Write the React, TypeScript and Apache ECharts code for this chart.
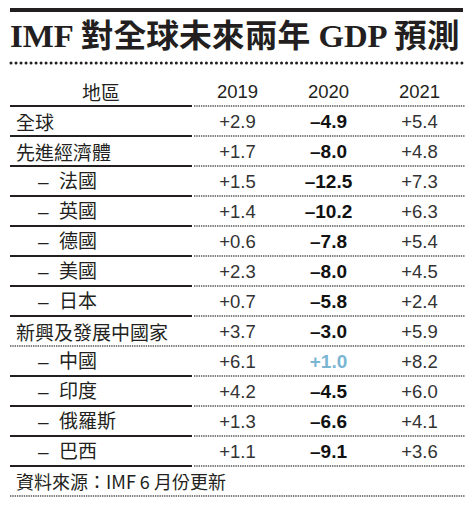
import React, { useEffect, useRef } from "react";
import * as echarts from "echarts";

const TITLE = "IMF 對全球未來兩年 GDP 預測";
const HEADER_REGION = "地區";
const YEARS = ["2019", "2020", "2021"];
const REGIONS = ["全球", "先進經濟體", "法國", "英國", "德國", "美國", "日本", "新興及發展中國家", "中國", "印度", "俄羅斯", "巴西"];
const LEVELS = [0, 0, 1, 1, 1, 1, 1, 0, 1, 1, 1, 1];
const G2019 = [2.9, 1.7, 1.5, 1.4, 0.6, 2.3, 0.7, 3.7, 6.1, 4.2, 1.3, 1.1];
const G2020 = [-4.9, -8.0, -12.5, -10.2, -7.8, -8.0, -5.8, -3.0, 1.0, -4.5, -6.6, -9.1];
const G2021 = [5.4, 4.8, 7.3, 6.3, 5.4, 4.5, 2.4, 5.9, 8.2, 6.0, 4.1, 3.6];
const SOURCE = "資料來源：IMF 6 月份更新";

// style constants
const INK = "#231f20";
const TEXT = "#333333";
const BLUE = "#7ab6d4";
const CJK = "'Noto Sans CJK TC', 'Noto Sans CJK SC', sans-serif";
const SANS = "'Liberation Sans', 'Noto Sans CJK TC', Arial, sans-serif";
const SERIF = "'Liberation Serif', 'Noto Sans CJK TC', serif";
const FULL_DOTTED_AFTER = [7]; // row index whose bottom rule is dotted across

const fmt = (v: number) => (v >= 0 ? "+" : "\u2013") + Math.abs(v).toFixed(1);

export default function App() {
  const ref = useRef<HTMLDivElement>(null);
  useEffect(() => {
    if (!ref.current) return;
    const chart = echarts.init(ref.current, null, { renderer: "svg" });

    const titleSize = 32;
    let scaleX = 1.04;
    try {
      const ctx = document.createElement("canvas").getContext("2d");
      if (ctx) {
        ctx.font = `bold ${titleSize}px ${SERIF}`;
        const w = ctx.measureText(TITLE).width;
        if (w > 0) scaleX = 453 / w;
      }
    } catch (e) {}

    const rowCount = REGIONS.length + 2; // header + rows + footer
    const data = Array.from({ length: rowCount }, (_, i) => [0, i]);

    const renderItem = (params: any, api: any) => {
      const r = api.value(1) as number;
      const X = (u: number) => api.coord([u, 0])[0];
      const cy = api.coord([0, r + 0.5])[1];
      const yb = Math.round(api.coord([0, r + 1])[1]);
      const children: any[] = [];
      const txt = (text: string, x: number, opts: any) =>
        children.push({
          type: "text",
          x,
          y: cy,
          style: {
            text,
            fill: opts.fill || TEXT,
            fontSize: opts.size || 18,
            fontFamily: opts.family || SANS,
            fontWeight: opts.weight || "normal",
            align: opts.align || "center",
            verticalAlign: "middle",
          },
        });
      const solid = (x1: number, x2: number) =>
        children.push({
          type: "line",
          shape: { x1, y1: yb, x2, y2: yb },
          style: { stroke: INK, lineWidth: 2.2 },
        });
      const dotted = (x1: number, x2: number) =>
        children.push({
          type: "line",
          shape: { x1, y1: yb, x2, y2: yb },
          style: { stroke: "#555", lineWidth: 1.5, lineDash: [1.4, 0.9] },
        });

      if (r === 0) {
        txt(HEADER_REGION, X(1), { family: CJK, size: 19, fill: INK });
        YEARS.forEach((y, j) => txt(y, X(2.5 + j), { size: 18.5, fill: INK }));
        solid(X(0), X(2));
        dotted(X(2) + 2, X(5));
      } else if (r === rowCount - 1) {
        txt(SOURCE, X(0) + 6, { family: CJK, size: 18, align: "left", fill: INK });
        dotted(X(0), X(5));
      } else {
        const i = r - 1;
        const label = LEVELS[i] ? "\u2013  " + REGIONS[i] : REGIONS[i];
        txt(label, X(0) + (LEVELS[i] ? 28 : 6), { family: LEVELS[i] ? SANS : CJK, size: 19, align: "left", fill: INK });
        txt(fmt(G2019[i]), X(2.5), { size: 18.5 });
        txt(fmt(G2020[i]), X(3.5), { size: 19, weight: "bold", fill: G2020[i] >= 0 ? BLUE : "#111" });
        txt(fmt(G2021[i]), X(4.5), { size: 18.5 });
        if (FULL_DOTTED_AFTER.includes(i)) {
          dotted(X(0), X(5));
        } else {
          solid(X(0), X(2));
          dotted(X(2) + 2, X(5));
        }
      }
      return { type: "group", children };
    };

    chart.setOption({
      animation: false,
      backgroundColor: "#ffffff",
      grid: { left: 10, right: 8, top: 76, bottom: 9 },
      xAxis: { type: "value", min: 0, max: 5, show: false },
      yAxis: { type: "value", min: 0, max: rowCount, inverse: true, show: false },
      graphic: [
        { type: "rect", shape: { x: 10, y: 8, width: 453, height: 4 }, style: { fill: INK } },
        {
          type: "text",
          x: 10,
          y: 36,
          scaleX,
          style: {
            text: TITLE,
            fill: INK,
            fontSize: titleSize,
            fontFamily: SERIF,
            fontWeight: "bold",
            align: "left",
            verticalAlign: "middle",
          },
        },
        {
          type: "line",
          shape: { x1: 11, y1: 63, x2: 463, y2: 63 },
          style: { stroke: INK, lineWidth: 3, lineDash: [0.01, 5], lineCap: "round" },
        },
      ],
      series: [
        {
          type: "custom",
          coordinateSystem: "cartesian2d",
          clip: false,
          silent: true,
          data,
          renderItem,
        },
      ],
    });
    return () => chart.dispose();
  }, []);
  return (
    <div
      ref={ref}
      style={{ position: "absolute", left: 0, top: 0, width: 473, height: 505, background: "#fff" }}
    />
  );
}
